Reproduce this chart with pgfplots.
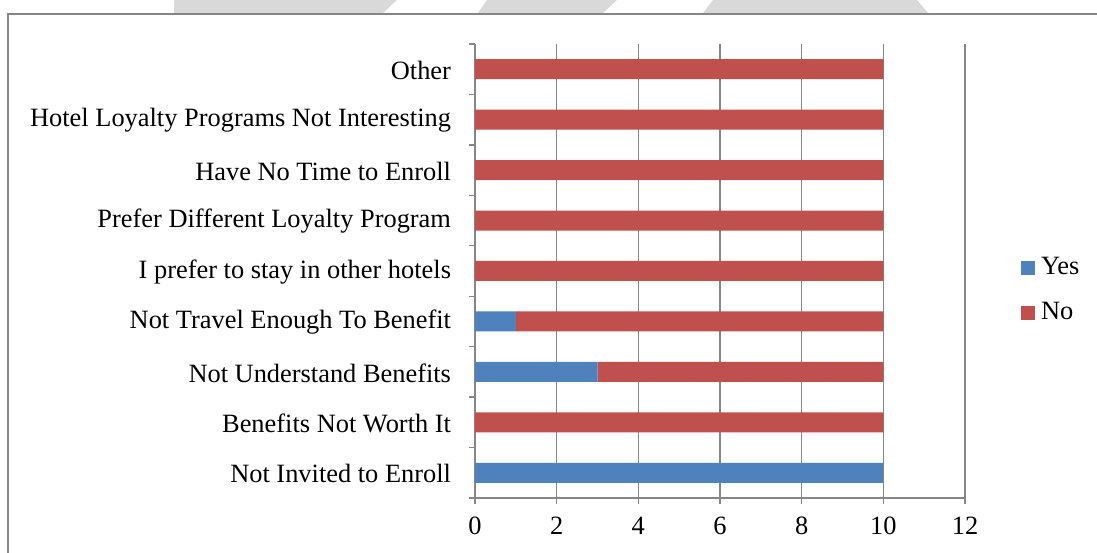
\documentclass[border=0pt]{standalone}
\usepackage{pgfplots}
\pgfplotsset{compat=1.18}
\usepackage{fontspec}
\setmainfont{Liberation Serif}
\definecolor{yesblue}{HTML}{4F81BD}
\definecolor{nored}{HTML}{C0504D}
\definecolor{axgray}{HTML}{868686}
\definecolor{wm}{HTML}{D9D9D9}
\begin{document}
\fontsize{26.4}{30}\selectfont
\begin{tikzpicture}[x=1pt,y=1pt]
\useasboundingbox (0,0) rectangle (1097,553);
\fill[wm] (174,540) -- (174,553) -- (397,553) -- (383,540) -- cycle;
\fill[wm] (478,540) -- (487,553) -- (617,553) -- (603,540) -- cycle;
\fill[wm] (703,540) -- (713,553) -- (917,553) -- (928,540) -- cycle;
\draw[axgray, line width=1.6pt] (1110,539) -- (8,539) -- (8,-10);
\begin{axis}[
  at={(475pt,55pt)}, anchor=south west, scale only axis,
  width=490pt, height=454pt,
  xbar stacked, bar width=20pt,
  xmin=0, xmax=12, ymin=-0.5, ymax=8.5,
  xtick={0,2,...,12},
  ytick={-0.5,0.5,...,8.5}, yticklabels={},
  extra y ticks={0,1,2,3,4,5,6,7,8},
  extra y tick labels={Not Invited to Enroll, Benefits Not Worth It, Not Understand Benefits, Not Travel Enough To Benefit, I prefer to stay in other hotels, Prefer Different Loyalty Program, Have No Time to Enroll, Hotel Loyalty Programs Not Interesting, Other},
  extra y tick style={major tick length=0pt, grid=none},
  axis x line*=bottom, axis y line*=left,
  axis line style={axgray, line width=1.3pt, -},
  every outer x axis line/.append style={-},
  every outer y axis line/.append style={-},
  tick style={axgray, line width=1.3pt},
  major tick length=6pt, tick align=outside,
  xmajorgrids, grid style={axgray, line width=1.3pt},
  tick label style={font=\fontsize{26.4}{30}\selectfont},
  yticklabel style={xshift=-15pt, yshift=-1pt},
  xticklabel style={yshift=-4pt},
  /pgf/number format/assume math mode=true,
  legend style={at={(1.114,0.457)}, anchor=west, draw=none, fill=none,
    inner sep=0pt, row sep=20pt, font=\fontsize{26.4}{30}\selectfont},
  legend cell align=left,
  legend image code/.code={\fill[#1] (0pt,-7pt) rectangle (14pt,7pt); \path (18pt,0pt);},
]
\addplot[fill=yesblue, draw=none] coordinates {(10,0) (0,1) (3,2) (1,3) (0,4) (0,5) (0,6) (0,7) (0,8)};
\addplot[fill=nored, draw=none] coordinates {(0,0) (10,1) (7,2) (9,3) (10,4) (10,5) (10,6) (10,7) (10,8)};
\legend{Yes, No}
\end{axis}
\end{tikzpicture}
\end{document}
